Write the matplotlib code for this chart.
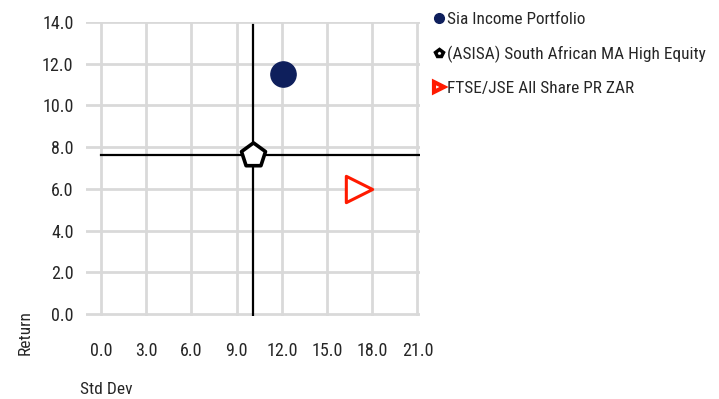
import matplotlib
matplotlib.use("Agg")
import matplotlib.pyplot as plt
from matplotlib.lines import Line2D

plt.rcParams["font.family"] = ["Roboto Condensed", "Roboto", "DejaVu Sans"]

# risk / return points
names = ["Sia Income Portfolio", "(ASISA) South African MA High Equity", "FTSE/JSE All Share PR ZAR"]
std_dev = [12.1, 10.1, 17.1]
returns = [11.5, 7.6, 6.0]

x_ticks = [0.0, 3.0, 6.0, 9.0, 12.0, 15.0, 18.0, 21.0]
y_ticks = [0.0, 2.0, 4.0, 6.0, 8.0, 10.0, 12.0, 14.0]

NAVY, RED, GRID, TXT = "#0e1f5c", "#ff1a00", "#d9d9d9", "#262626"

fig = plt.figure(figsize=(7.19, 3.99), dpi=100)
ax = fig.add_axes([86 / 719, 1 - 316 / 399, 334 / 719, 294 / 399])
ax.set_xlim(-1.0, 21.17)
ax.set_ylim(-0.1, 14.0)

for v in y_ticks:
    ax.axhline(v, color=GRID, lw=2, zorder=0)
for v in x_ticks:
    ax.axvline(v, color=GRID, lw=2, zorder=0)

# peer-group crosshair
ax.plot([std_dev[1]] * 2, [-0.1, 13.85], color="black", lw=1.6, zorder=1)
ax.plot([0.0, 21.17], [returns[1]] * 2, color="black", lw=1.6, zorder=1)

ax.scatter(std_dev[0], returns[0], s=330, color=NAVY, zorder=3)
ax.scatter(std_dev[1], returns[1], s=330, marker="p", facecolor="white", edgecolor="black", lw=2.6, zorder=3)
ax.scatter(std_dev[2], returns[2], s=360, marker=">", facecolor="white", edgecolor=RED, lw=2.2, zorder=3)

for s in ax.spines.values():
    s.set_visible(False)
ax.set_xticks(x_ticks)
ax.set_xticklabels([f"{v:.1f}" for v in x_ticks])
ax.set_yticks(y_ticks)
ax.set_yticklabels([f"{v:.1f}" for v in y_ticks])
ax.tick_params(length=0, labelsize=13, colors=TXT)
ax.tick_params(axis="x", pad=18.5)
ax.tick_params(axis="y", pad=9)

fig.text(25 / 719, 1 - 333 / 399, "Return", rotation=90, ha="center", va="center", fontsize=12.5, color=TXT)
fig.text(80 / 719, 1 - 389 / 399, "Std Dev", ha="left", va="center", fontsize=12.5, color=TXT)

handles = [
    Line2D([], [], ls="", marker="o", ms=7, color=NAVY),
    Line2D([], [], ls="", marker="p", ms=6, mfc="white", mec="black", mew=2.5),
    Line2D([], [], ls="", marker=">", ms=7, mfc="white", mec=RED, mew=3),
]
fig.legend(handles, names, loc="upper left", bbox_to_anchor=(425 / 719, 1 - 3 / 399),
           frameon=False, fontsize=12.4, handlelength=0.6, handletextpad=0.15,
           labelspacing=1.08, labelcolor=TXT, borderpad=0)

fig.savefig("out.png", dpi=100)
